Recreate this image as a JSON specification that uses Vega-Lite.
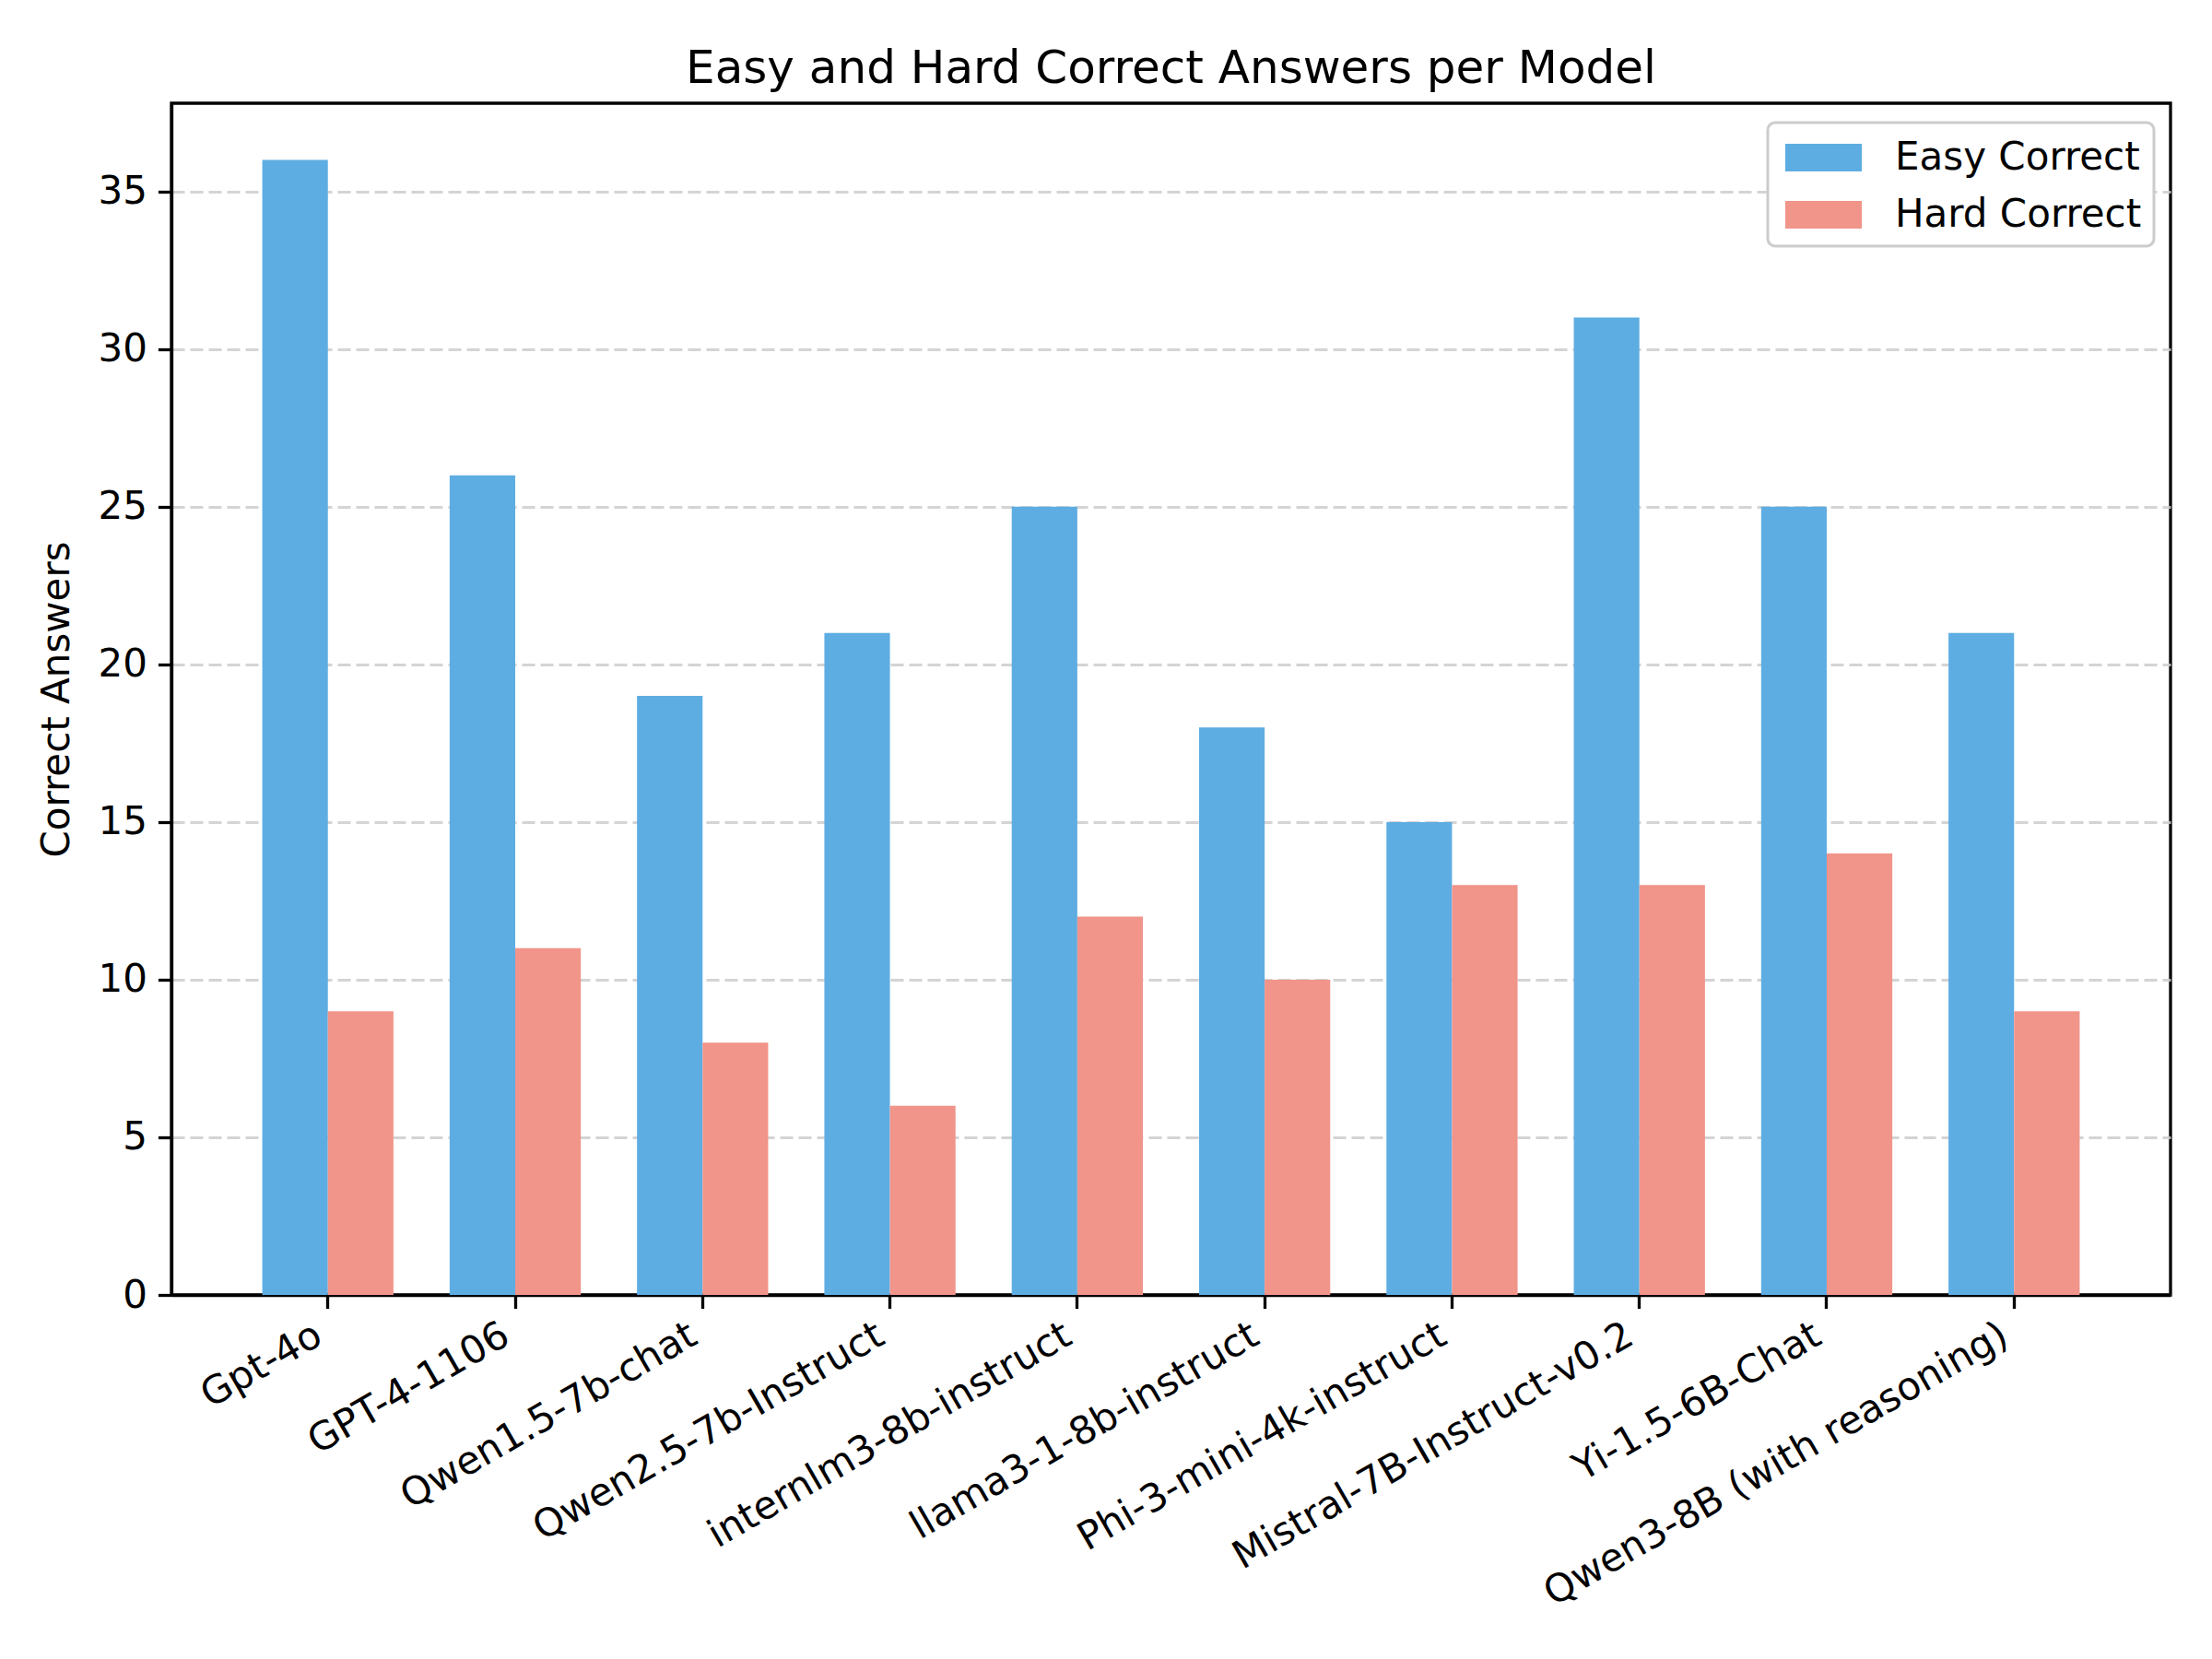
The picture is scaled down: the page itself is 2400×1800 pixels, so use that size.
{
  "$schema": "https://vega.github.io/schema/vega-lite/v6.json",
  "width": 2169,
  "height": 1293,
  "autosize": {"type": "none"},
  "padding": {"left": 186, "top": 112, "right": 45, "bottom": 395},
  "background": "white",
  "title": {
    "text": "Easy and Hard Correct Answers per Model",
    "font": "DejaVu Sans",
    "fontSize": 50,
    "fontWeight": "normal",
    "color": "black",
    "anchor": "middle",
    "baseline": "bottom",
    "offset": -38
  },
  "config": {
    "font": "DejaVu Sans",
    "view": {"stroke": "black", "strokeWidth": 3.3},
    "legend": {"strokeWidth": 3},
    "axis": {
      "labelFont": "DejaVu Sans",
      "titleFont": "DejaVu Sans",
      "labelColor": "black",
      "titleColor": "black",
      "domainColor": "black",
      "domainWidth": 3.3,
      "tickColor": "black",
      "tickWidth": 3.3,
      "tickSize": 14.6,
      "labelPadding": 10,
      "labelFontSize": 42,
      "titleFontSize": 42,
      "titleFontWeight": "normal"
    }
  },
  "data": {
    "values": [
      {"model": "Gpt-4o", "type": "Easy Correct", "value": 36},
      {"model": "Gpt-4o", "type": "Hard Correct", "value": 9},
      {"model": "GPT-4-1106", "type": "Easy Correct", "value": 26},
      {"model": "GPT-4-1106", "type": "Hard Correct", "value": 11},
      {"model": "Qwen1.5-7b-chat", "type": "Easy Correct", "value": 19},
      {"model": "Qwen1.5-7b-chat", "type": "Hard Correct", "value": 8},
      {"model": "Qwen2.5-7b-Instruct", "type": "Easy Correct", "value": 21},
      {"model": "Qwen2.5-7b-Instruct", "type": "Hard Correct", "value": 6},
      {"model": "internlm3-8b-instruct", "type": "Easy Correct", "value": 25},
      {"model": "internlm3-8b-instruct", "type": "Hard Correct", "value": 12},
      {"model": "llama3-1-8b-instruct", "type": "Easy Correct", "value": 18},
      {"model": "llama3-1-8b-instruct", "type": "Hard Correct", "value": 10},
      {"model": "Phi-3-mini-4k-instruct", "type": "Easy Correct", "value": 15},
      {"model": "Phi-3-mini-4k-instruct", "type": "Hard Correct", "value": 13},
      {"model": "Mistral-7B-Instruct-v0.2", "type": "Easy Correct", "value": 31},
      {"model": "Mistral-7B-Instruct-v0.2", "type": "Hard Correct", "value": 13},
      {"model": "Yi-1.5-6B-Chat", "type": "Easy Correct", "value": 25},
      {"model": "Yi-1.5-6B-Chat", "type": "Hard Correct", "value": 14},
      {"model": "Qwen3-8B (with reasoning)", "type": "Easy Correct", "value": 21},
      {"model": "Qwen3-8B (with reasoning)", "type": "Hard Correct", "value": 9}
    ]
  },
  "mark": {"type": "bar", "clip": true},
  "encoding": {
    "x": {
      "field": "model",
      "type": "nominal",
      "sort": null,
      "scale": {"paddingInner": 0.3, "paddingOuter": 0.485},
      "axis": {
        "title": null,
        "labelAngle": -30,
        "labelAlign": "right",
        "labelBaseline": "top",
        "labelPadding": 8,
        "labelOffset": -20,
        "grid": false,
        "labelLimit": 1000
      }
    },
    "xOffset": {
      "field": "type",
      "type": "nominal",
      "sort": ["Easy Correct", "Hard Correct"],
      "scale": {"paddingInner": 0, "paddingOuter": 0}
    },
    "y": {
      "field": "value",
      "type": "quantitative",
      "scale": {"domain": [0, 37.8], "nice": false, "zero": true},
      "axis": {
        "title": "Correct Answers",
        "titlePadding": 22,
        "values": [0, 5, 10, 15, 20, 25, 30, 35],
        "grid": true,
        "gridColor": "#cccccc",
        "gridOpacity": 0.85,
        "gridWidth": 3,
        "gridDash": [14, 6],
        "labelPadding": 12
      }
    },
    "color": {
      "field": "type",
      "type": "nominal",
      "scale": {
        "domain": ["Easy Correct", "Hard Correct"],
        "range": ["#5DADE2", "#F1948A"]
      },
      "legend": {
        "title": null,
        "orient": "none",
        "legendX": 1732,
        "legendY": 21,
        "direction": "vertical",
        "padding": 13,
        "rowPadding": 16,
        "strokeColor": "#cccccc",
        "cornerRadius": 8,
        "fillColor": "white",
        "labelFont": "DejaVu Sans",
        "labelFontSize": 42,
        "labelColor": "black",
        "labelOffset": 75,
        "labelLimit": 1000,
        "symbolType": "M-0.76,-0.6L2.56,-0.6L2.56,0.6L-0.76,0.6Z",
        "symbolSize": 2500,
        "symbolStrokeWidth": 0,
        "symbolOpacity": 1
      }
    }
  }
}
